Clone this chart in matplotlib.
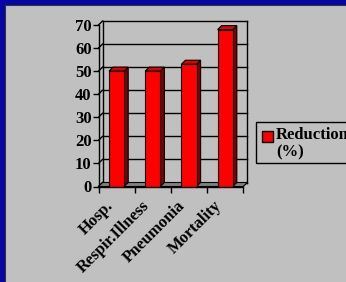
import numpy as np
import matplotlib.pyplot as plt
from matplotlib.patches import Polygon, Rectangle
from matplotlib.transforms import offset_copy

categories = ["Hosp.", "Respir.Illness", "Pneumonia", "Mortality"]
reduction = [50, 50, 53, 68]
yticks = [0, 10, 20, 30, 40, 50, 60, 70]
legend_label = "Reduction\n(%)"

W, H = 346, 282
font = {"family": "Liberation Serif", "weight": "bold", "size": 12}

fig = plt.figure(figsize=(W / 100, H / 100), dpi=100, facecolor="#C0C0C0")

# blue frame top / left
fig.patches.append(Rectangle((0, 1 - 4.5 / H), 1, 4.5 / H, transform=fig.transFigure,
                             facecolor="#0606A6", edgecolor="none"))
fig.patches.append(Rectangle((0, 0), 5 / W, 1, transform=fig.transFigure,
                             facecolor="#0606A6", edgecolor="none"))
fig.lines.append(plt.Line2D([5 / W, 1], [1 - 4.5 / H] * 2, transform=fig.transFigure,
                            color="#333333", lw=0.8))
fig.lines.append(plt.Line2D([5 / W] * 2, [0, 1 - 4.5 / H], transform=fig.transFigure,
                            color="#333333", lw=0.8))

# axes placed in pixels
x0, x1 = 98.5, 243.3
y0, y70 = 186.5, 25
ax = fig.add_axes([x0 / W, 1 - y0 / H, (x1 - x0) / W, (y0 - y70) / H])
ax.set_xlim(0, 4)
ax.set_ylim(0, 70)
ax.set_facecolor("none")
for s in ax.spines.values():
    s.set_visible(False)

# 3d depth in data units
dx = 4 / ((x1 - x0) / 4)
dy = 4 / ((y0 - y70) / 70)

# back wall grid + connectors on the left side
for t in yticks:
    ax.plot([dx, 4 + dx], [t + dy, t + dy], color="black", lw=1, zorder=1, clip_on=False)
    ax.plot([0, dx], [t, t + dy], color="black", lw=1, zorder=1, clip_on=False)
ax.plot([dx, dx], [dy, 70 + dy], color="black", lw=1, zorder=1, clip_on=False)
ax.plot([4 + dx, 4 + dx], [dy, 70 + dy], color="black", lw=1, zorder=1, clip_on=False)
ax.plot([0, 0], [0, 70], color="black", lw=1, zorder=1, clip_on=False)

# floor
ax.add_patch(Polygon([(0, 0), (4, 0), (4 + dx, dy), (dx, dy)], closed=True,
                     facecolor="#808080", edgecolor="black", lw=0.8, zorder=2, clip_on=False))

# bars
centers = np.arange(len(categories)) + 0.5
bw = 0.42
for c, v in zip(centers, reduction):
    l, r = c - bw / 2, c + bw / 2
    ax.add_patch(Polygon([(r, 0), (r + dx, dy), (r + dx, v + dy), (r, v)], closed=True,
                         facecolor="#800000", edgecolor="black", lw=0.8, zorder=3, clip_on=False))
    ax.add_patch(Polygon([(l, v), (r, v), (r + dx, v + dy), (l + dx, v + dy)], closed=True,
                         facecolor="#E00000", edgecolor="black", lw=0.8, zorder=3, clip_on=False))
ax.bar(centers, reduction, width=bw, color="#FF0000", edgecolor="black", lw=0.8, zorder=4)

# ticks
ax.set_yticks(yticks)
ax.set_yticklabels([str(t) for t in yticks], fontdict=font)
ax.tick_params(axis="y", length=4, width=1, pad=1, color="black")
ax.set_xticks(range(5))
ax.set_xticklabels([])
ax.tick_params(axis="x", length=4, width=1, color="black")
ax.plot([0, 4], [0, 0], color="black", lw=1, zorder=5, clip_on=False)

tr = offset_copy(ax.get_xaxis_transform(), fig=fig, x=-6, y=-17, units="dots")
for c, name in zip(centers, categories):
    ax.text(c, 0, name, transform=tr, rotation=45, rotation_mode="anchor",
            ha="right", va="center", **font)

# legend
fig.patches.append(Rectangle((256 / W, 1 - 163 / H), 100 / W, 41 / H, transform=fig.transFigure,
                             facecolor="none", edgecolor="black", lw=1))
fig.patches.append(Rectangle((262 / W, 1 - 142 / H), 11 / W, 11 / H, transform=fig.transFigure,
                             facecolor="#FF0000", edgecolor="black", lw=1))
fig.text(276 / W, 1 - 127 / H, legend_label, ha="left", va="top", linespacing=1.1,
         family="Liberation Serif", weight="bold", size=12)

fig.savefig("out.png", dpi=100, facecolor=fig.get_facecolor())
